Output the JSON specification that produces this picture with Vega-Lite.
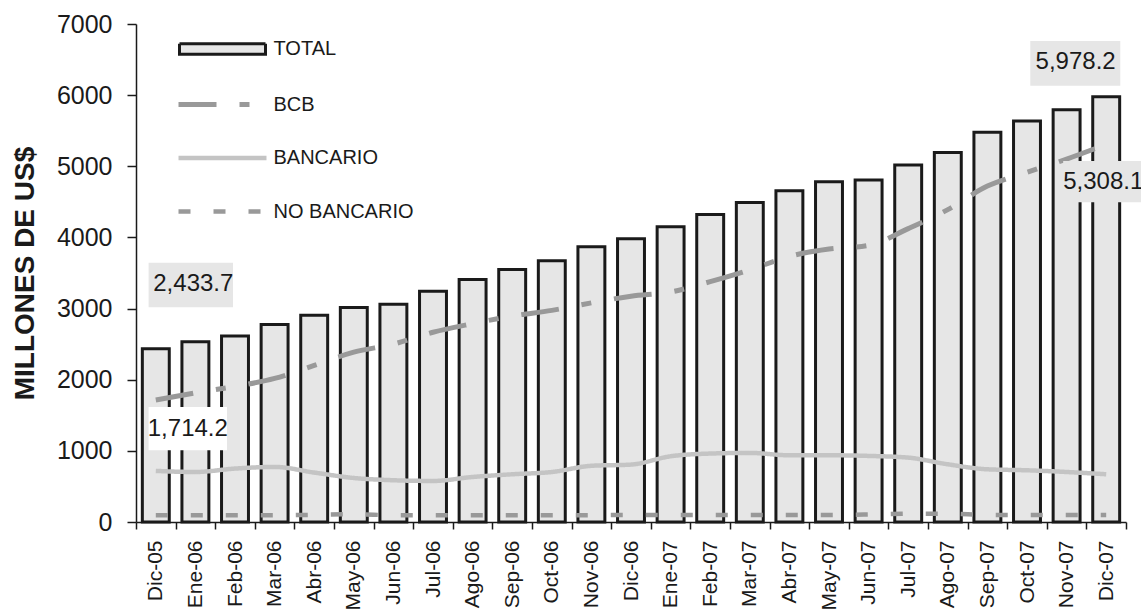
{
  "$schema": "https://vega.github.io/schema/vega-lite/v6.json",
  "autosize": {"type": "none"},
  "padding": {"left": 136, "top": 24, "right": 15, "bottom": 89},
  "width": 990,
  "height": 498,
  "background": "white",
  "config": {
    "view": {"stroke": null},
    "font": "Liberation Sans",
    "legend": {
      "title": null, "orient": "none", "legendX": 40, "legendY": 15, "padding": 0,
      "symbolType": "stroke", "symbolSize": 100, "symbolOffset": 36.5, "labelOffset": 41,
      "labelFontSize": 20, "labelColor": "#1a1a1a", "labelFont": "Liberation Sans", "rowPadding": 33.5
    }
  },
  "data": {"values": [
    {"mes": "Dic-05", "serie": "TOTAL", "valor": 2433.7},
    {"mes": "Ene-06", "serie": "TOTAL", "valor": 2532},
    {"mes": "Feb-06", "serie": "TOTAL", "valor": 2616},
    {"mes": "Mar-06", "serie": "TOTAL", "valor": 2776},
    {"mes": "Abr-06", "serie": "TOTAL", "valor": 2907},
    {"mes": "May-06", "serie": "TOTAL", "valor": 3015},
    {"mes": "Jun-06", "serie": "TOTAL", "valor": 3062},
    {"mes": "Jul-06", "serie": "TOTAL", "valor": 3245},
    {"mes": "Ago-06", "serie": "TOTAL", "valor": 3409},
    {"mes": "Sep-06", "serie": "TOTAL", "valor": 3550},
    {"mes": "Oct-06", "serie": "TOTAL", "valor": 3671},
    {"mes": "Nov-06", "serie": "TOTAL", "valor": 3868},
    {"mes": "Dic-06", "serie": "TOTAL", "valor": 3980},
    {"mes": "Ene-07", "serie": "TOTAL", "valor": 4149},
    {"mes": "Feb-07", "serie": "TOTAL", "valor": 4323},
    {"mes": "Mar-07", "serie": "TOTAL", "valor": 4492},
    {"mes": "Abr-07", "serie": "TOTAL", "valor": 4655},
    {"mes": "May-07", "serie": "TOTAL", "valor": 4782},
    {"mes": "Jun-07", "serie": "TOTAL", "valor": 4806},
    {"mes": "Jul-07", "serie": "TOTAL", "valor": 5017},
    {"mes": "Ago-07", "serie": "TOTAL", "valor": 5195},
    {"mes": "Sep-07", "serie": "TOTAL", "valor": 5477},
    {"mes": "Oct-07", "serie": "TOTAL", "valor": 5636},
    {"mes": "Nov-07", "serie": "TOTAL", "valor": 5795},
    {"mes": "Dic-07", "serie": "TOTAL", "valor": 5978.2},
    {"mes": "Dic-05", "serie": "BCB", "valor": 1714.2},
    {"mes": "Ene-06", "serie": "BCB", "valor": 1815},
    {"mes": "Feb-06", "serie": "BCB", "valor": 1906},
    {"mes": "Mar-06", "serie": "BCB", "valor": 2018},
    {"mes": "Abr-06", "serie": "BCB", "valor": 2200},
    {"mes": "May-06", "serie": "BCB", "valor": 2387},
    {"mes": "Jun-06", "serie": "BCB", "valor": 2500},
    {"mes": "Jul-06", "serie": "BCB", "valor": 2667},
    {"mes": "Ago-06", "serie": "BCB", "valor": 2788},
    {"mes": "Sep-06", "serie": "BCB", "valor": 2895},
    {"mes": "Oct-06", "serie": "BCB", "valor": 2975},
    {"mes": "Nov-06", "serie": "BCB", "valor": 3080},
    {"mes": "Dic-06", "serie": "BCB", "valor": 3174},
    {"mes": "Ene-07", "serie": "BCB", "valor": 3233},
    {"mes": "Feb-07", "serie": "BCB", "valor": 3378},
    {"mes": "Mar-07", "serie": "BCB", "valor": 3544},
    {"mes": "Abr-07", "serie": "BCB", "valor": 3733},
    {"mes": "May-07", "serie": "BCB", "valor": 3836},
    {"mes": "Jun-07", "serie": "BCB", "valor": 3888},
    {"mes": "Jul-07", "serie": "BCB", "valor": 4124},
    {"mes": "Ago-07", "serie": "BCB", "valor": 4391},
    {"mes": "Sep-07", "serie": "BCB", "valor": 4722},
    {"mes": "Oct-07", "serie": "BCB", "valor": 4916},
    {"mes": "Nov-07", "serie": "BCB", "valor": 5101},
    {"mes": "Dic-07", "serie": "BCB", "valor": 5308.1},
    {"mes": "Dic-05", "serie": "BANCARIO", "valor": 718},
    {"mes": "Ene-06", "serie": "BANCARIO", "valor": 703},
    {"mes": "Feb-06", "serie": "BANCARIO", "valor": 751},
    {"mes": "Mar-06", "serie": "BANCARIO", "valor": 774},
    {"mes": "Abr-06", "serie": "BANCARIO", "valor": 695},
    {"mes": "May-06", "serie": "BANCARIO", "valor": 619},
    {"mes": "Jun-06", "serie": "BANCARIO", "valor": 587},
    {"mes": "Jul-06", "serie": "BANCARIO", "valor": 577},
    {"mes": "Ago-06", "serie": "BANCARIO", "valor": 633},
    {"mes": "Sep-06", "serie": "BANCARIO", "valor": 671},
    {"mes": "Oct-06", "serie": "BANCARIO", "valor": 703},
    {"mes": "Nov-06", "serie": "BANCARIO", "valor": 790},
    {"mes": "Dic-06", "serie": "BANCARIO", "valor": 807},
    {"mes": "Ene-07", "serie": "BANCARIO", "valor": 924},
    {"mes": "Feb-07", "serie": "BANCARIO", "valor": 962},
    {"mes": "Mar-07", "serie": "BANCARIO", "valor": 971},
    {"mes": "Abr-07", "serie": "BANCARIO", "valor": 938},
    {"mes": "May-07", "serie": "BANCARIO", "valor": 938},
    {"mes": "Jun-07", "serie": "BANCARIO", "valor": 929},
    {"mes": "Jul-07", "serie": "BANCARIO", "valor": 905},
    {"mes": "Ago-07", "serie": "BANCARIO", "valor": 811},
    {"mes": "Sep-07", "serie": "BANCARIO", "valor": 741},
    {"mes": "Oct-07", "serie": "BANCARIO", "valor": 727},
    {"mes": "Nov-07", "serie": "BANCARIO", "valor": 703},
    {"mes": "Dic-07", "serie": "BANCARIO", "valor": 671},
    {"mes": "Dic-05", "serie": "NO BANCARIO", "valor": 95},
    {"mes": "Ene-06", "serie": "NO BANCARIO", "valor": 95},
    {"mes": "Feb-06", "serie": "NO BANCARIO", "valor": 95},
    {"mes": "Mar-06", "serie": "NO BANCARIO", "valor": 95},
    {"mes": "Abr-06", "serie": "NO BANCARIO", "valor": 100},
    {"mes": "May-06", "serie": "NO BANCARIO", "valor": 110},
    {"mes": "Jun-06", "serie": "NO BANCARIO", "valor": 95},
    {"mes": "Jul-06", "serie": "NO BANCARIO", "valor": 95},
    {"mes": "Ago-06", "serie": "NO BANCARIO", "valor": 95},
    {"mes": "Sep-06", "serie": "NO BANCARIO", "valor": 95},
    {"mes": "Oct-06", "serie": "NO BANCARIO", "valor": 95},
    {"mes": "Nov-06", "serie": "NO BANCARIO", "valor": 95},
    {"mes": "Dic-06", "serie": "NO BANCARIO", "valor": 100},
    {"mes": "Ene-07", "serie": "NO BANCARIO", "valor": 100},
    {"mes": "Feb-07", "serie": "NO BANCARIO", "valor": 100},
    {"mes": "Mar-07", "serie": "NO BANCARIO", "valor": 100},
    {"mes": "Abr-07", "serie": "NO BANCARIO", "valor": 100},
    {"mes": "May-07", "serie": "NO BANCARIO", "valor": 100},
    {"mes": "Jun-07", "serie": "NO BANCARIO", "valor": 105},
    {"mes": "Jul-07", "serie": "NO BANCARIO", "valor": 115},
    {"mes": "Ago-07", "serie": "NO BANCARIO", "valor": 115},
    {"mes": "Sep-07", "serie": "NO BANCARIO", "valor": 100},
    {"mes": "Oct-07", "serie": "NO BANCARIO", "valor": 100},
    {"mes": "Nov-07", "serie": "NO BANCARIO", "valor": 100},
    {"mes": "Dic-07", "serie": "NO BANCARIO", "valor": 100}
  ]},
  "encoding": {
    "x": {
      "field": "mes", "type": "ordinal", "sort": null,
      "scale": {"paddingInner": 0, "paddingOuter": 0},
      "axis": {
        "title": null, "labelAngle": 270, "labelFontSize": 21, "labelColor": "#1a1a1a",
        "labelFont": "Liberation Sans",
        "tickBand": "extent", "tickSize": 7, "labelPadding": 11,
        "domainColor": "#1a1a1a", "domainWidth": 1.5, "tickColor": "#1a1a1a", "tickWidth": 1.5,
        "grid": false
      }
    },
    "y": {
      "field": "valor", "type": "quantitative",
      "scale": {"domain": [0, 7000], "nice": false},
      "axis": {
        "title": "MILLONES DE US$", "titleFontSize": 28, "titleFontWeight": "bold", "titleColor": "#1a1a1a",
        "titleFont": "Liberation Sans", "titleAngle": -90, "titleAlign": "center", "titleBaseline": "alphabetic",
        "titleX": -103, "titleY": 249,
        "values": [0, 1000, 2000, 3000, 4000, 5000, 6000, 7000],
        "format": "d", "labelFontSize": 25, "labelColor": "#1a1a1a", "labelFont": "Liberation Sans",
        "tickSize": 9, "labelPadding": 15, "grid": false,
        "domainColor": "#1a1a1a", "domainWidth": 1.5, "tickColor": "#1a1a1a", "tickWidth": 1.5
      }
    }
  },
  "layer": [
    {
      "transform": [{"filter": "datum.serie === 'TOTAL'"}],
      "mark": {"type": "bar", "width": {"band": 0.68}},
      "encoding": {
        "fill": {
          "field": "serie", "type": "nominal",
          "scale": {"domain": ["TOTAL", "BCB", "BANCARIO", "NO BANCARIO"], "range": ["#e6e6e6", "transparent", "transparent", "transparent"]},
          "legend": {
            "encode": {"symbols": {"update": {
              "shape": {"signal": "datum.value === 'TOTAL' ? 'M-8.6,-1.05H8.6V1.05H-8.6Z' : 'M-8.8,0H8.8'"}
            }}}
          }
        },
        "stroke": {
          "field": "serie", "type": "nominal",
          "scale": {"domain": ["TOTAL", "BCB", "BANCARIO", "NO BANCARIO"], "range": ["#1a1a1a", "#999999", "#c4c4c4", "#999999"]},
          "legend": {
            "encode": {"symbols": {"update": {
              "shape": {"signal": "datum.value === 'TOTAL' ? 'M-8.6,-1.05H8.6V1.05H-8.6Z' : 'M-8.8,0H8.8'"}
            }}}
          }
        },
        "strokeWidth": {
          "field": "serie", "type": "nominal",
          "scale": {"type": "ordinal", "domain": ["TOTAL", "BCB", "BANCARIO", "NO BANCARIO"], "range": [3, 5, 4.5, 4.5]},
          "legend": {
            "encode": {"symbols": {"update": {
              "shape": {"signal": "datum.value === 'TOTAL' ? 'M-8.6,-1.05H8.6V1.05H-8.6Z' : 'M-8.8,0H8.8'"}
            }}}
          }
        }
      }
    },
    {
      "transform": [{"filter": "datum.serie !== 'TOTAL'"}],
      "mark": {"type": "line", "interpolate": "monotone"},
      "encoding": {
        "stroke": {
          "field": "serie", "type": "nominal",
          "scale": {"domain": ["TOTAL", "BCB", "BANCARIO", "NO BANCARIO"], "range": ["#1a1a1a", "#999999", "#c4c4c4", "#999999"]},
          "legend": {
            "encode": {"symbols": {"update": {
              "shape": {"signal": "datum.value === 'TOTAL' ? 'M-8.6,-1.05H8.6V1.05H-8.6Z' : 'M-8.8,0H8.8'"}
            }}}
          }
        },
        "strokeWidth": {
          "field": "serie", "type": "nominal",
          "scale": {"type": "ordinal", "domain": ["TOTAL", "BCB", "BANCARIO", "NO BANCARIO"], "range": [3, 5, 4.5, 4.5]},
          "legend": {
            "encode": {"symbols": {"update": {
              "shape": {"signal": "datum.value === 'TOTAL' ? 'M-8.6,-1.05H8.6V1.05H-8.6Z' : 'M-8.8,0H8.8'"}
            }}}
          }
        },
        "strokeDash": {
          "field": "serie", "type": "nominal",
          "scale": {"domain": ["TOTAL", "BCB", "BANCARIO", "NO BANCARIO"], "range": [[1, 0], [38, 23, 10, 23], [1, 0], [12, 23]]},
          "legend": {
            "encode": {"symbols": {"update": {
              "shape": {"signal": "datum.value === 'TOTAL' ? 'M-8.6,-1.05H8.6V1.05H-8.6Z' : 'M-8.8,0H8.8'"}
            }}}
          }
        }
      }
    },
    {
      "transform": [{"filter": "datum.serie === 'TOTAL' && datum.mes === 'Dic-05'"}],
      "mark": {"type": "point", "shape": "M-0.72,-8.6H7.72V-4.16H-0.72Z", "size": 400, "filled": true, "fill": "#e6e6e6", "opacity": 1, "strokeWidth": 0}
    },
    {
      "transform": [{"filter": "datum.serie === 'BCB' && datum.mes === 'Dic-05'"}],
      "mark": {"type": "point", "shape": "M-0.72,0.69H7.12V5.02H-0.72Z", "size": 400, "filled": true, "fill": "#ffffff", "opacity": 1, "strokeWidth": 0}
    },
    {
      "transform": [{"filter": "datum.serie === 'TOTAL' && datum.mes === 'Dic-07'"}],
      "mark": {"type": "point", "shape": "M-7.59,-5.57H1.41V-1.1H-7.59Z", "size": 400, "filled": true, "fill": "#e6e6e6", "opacity": 1, "strokeWidth": 0}
    },
    {
      "transform": [{"filter": "datum.serie === 'BCB' && datum.mes === 'Dic-07'"}],
      "mark": {"type": "point", "shape": "M-4.3,1.67H4.5V5.8H-4.3Z", "size": 400, "filled": true, "fill": "#e6e6e6", "opacity": 1, "strokeWidth": 0}
    },
    {
      "transform": [{"filter": "datum.serie === 'TOTAL' && datum.mes === 'Dic-05'"}],
      "mark": {"type": "text", "dx": 37.5, "dy": -64.8, "fontSize": 24, "font": "Liberation Sans", "fill": "#1a1a1a", "align": "center", "baseline": "middle"},
      "encoding": {"text": {"field": "valor", "type": "quantitative", "format": ",.1f"}}
    },
    {
      "transform": [{"filter": "datum.serie === 'BCB' && datum.mes === 'Dic-05'"}],
      "mark": {"type": "text", "dx": 32, "dy": 28.5, "fontSize": 24, "font": "Liberation Sans", "fill": "#1a1a1a", "align": "center", "baseline": "middle"},
      "encoding": {"text": {"field": "valor", "type": "quantitative", "format": ",.1f"}}
    },
    {
      "transform": [{"filter": "datum.serie === 'TOTAL' && datum.mes === 'Dic-07'"}],
      "mark": {"type": "text", "dx": -30.6, "dy": -34.5, "fontSize": 24, "font": "Liberation Sans", "fill": "#1a1a1a", "align": "center", "baseline": "middle"},
      "encoding": {"text": {"field": "valor", "type": "quantitative", "format": ",.1f"}}
    },
    {
      "transform": [{"filter": "datum.serie === 'BCB' && datum.mes === 'Dic-07'"}],
      "mark": {"type": "text", "dx": -3, "dy": 37.7, "fontSize": 24, "font": "Liberation Sans", "fill": "#1a1a1a", "align": "center", "baseline": "middle"},
      "encoding": {"text": {"field": "valor", "type": "quantitative", "format": ",.1f"}}
    }
  ]
}
